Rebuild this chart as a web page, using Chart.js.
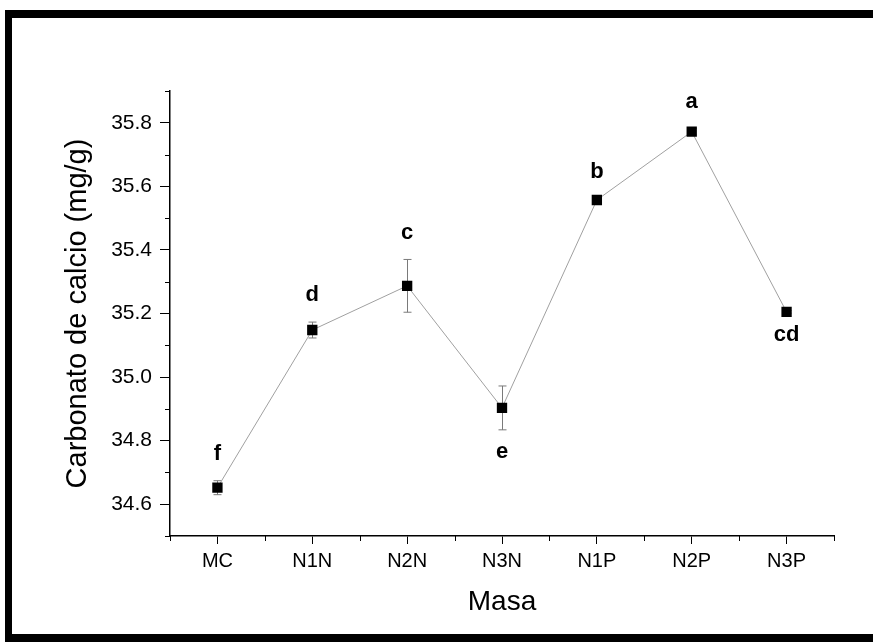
<!DOCTYPE html>
<html>
<head>
<meta charset="utf-8">
<script src="https://cdn.jsdelivr.net/npm/chart.js@4.4.1/dist/chart.umd.min.js"></script>
<style>
    body { margin: 0; background: #ffffff; }
    #frame { position: absolute; left: 5px; top: 10px; width: 900px; height: 632px; border-left: 7px solid #000; border-top: 8px solid #000; border-bottom: 8px solid #000; box-sizing: border-box; }
    #graph { position: absolute; left: 0; top: 0; }
</style>
</head>
<body>
<div id="frame"></div>
<canvas id="graph" width="873" height="644"></canvas>
<script>
//data
const categories = ["MC", "N1N", "N2N", "N3N", "N1P", "N2P", "N3P"];
const means = [34.652, 35.148, 35.287, 34.903, 35.557, 35.772, 35.205];
const errors = [0.022, 0.025, 0.083, 0.069, 0.004, 0.010, 0.004];
const letters = ["f", "d", "c", "e", "b", "a", "cd"];
const yTicks = [34.6, 34.8, 35.0, 35.2, 35.4, 35.6, 35.8];
const yMinorTicks = [34.5, 34.7, 34.9, 35.1, 35.3, 35.5, 35.7, 35.9];

//where each letter sits, above or below the point
const letterSide = ["top", "top", "top", "bottom", "top", "top", "bottom"];

const FONT = "'Liberation Sans', Arial, sans-serif";

/**********/
const extrasPlugin =
{
    id: "extras",

    beforeDatasetsDraw(chart)
    {
        const ctx = chart.ctx;
        const x = chart.scales.x;
        const y = chart.scales.y;

        ctx.save();

        //minor ticks y
        ctx.strokeStyle = "#000";
        ctx.lineWidth = 1;
        for (let i = 0; i < yMinorTicks.length; i++)
        {
            let py = Math.round(y.getPixelForValue(yMinorTicks[i])) + 0.5;
            ctx.beginPath();
            ctx.moveTo(x.left - 5, py);
            ctx.lineTo(x.left, py);
            ctx.stroke();
        }

        //minor ticks x, between categories
        for (let i = 0; i <= categories.length; i++)
        {
            let px = Math.round(x.getPixelForValue(i - 0.5)) + 0.5;
            ctx.beginPath();
            ctx.moveTo(px, y.bottom);
            ctx.lineTo(px, y.bottom + 5);
            ctx.stroke();
        }

        //error bars
        ctx.strokeStyle = "#7a7a7a";
        for (let i = 0; i < means.length; i++)
        {
            let px = Math.round(x.getPixelForValue(i)) + 0.5;
            let top = y.getPixelForValue(means[i] + errors[i]);
            let bot = y.getPixelForValue(means[i] - errors[i]);
            ctx.beginPath();
            ctx.moveTo(px, top);
            ctx.lineTo(px, bot);
            ctx.moveTo(px - 4, top);
            ctx.lineTo(px + 4, top);
            ctx.moveTo(px - 4, bot);
            ctx.lineTo(px + 4, bot);
            ctx.stroke();
        }

        ctx.restore();
    },

    afterDatasetsDraw(chart)
    {
        const ctx = chart.ctx;
        const x = chart.scales.x;
        const y = chart.scales.y;

        ctx.save();
        ctx.fillStyle = "#000";
        ctx.font = "bold 22px " + FONT;
        ctx.textAlign = "center";
        ctx.textBaseline = "middle";

        for (let i = 0; i < letters.length; i++)
        {
            let px = x.getPixelForValue(i);
            let py;
            if (letterSide[i] === "top") { py = y.getPixelForValue(means[i] + errors[i]) - 27; }
            else { py = y.getPixelForValue(means[i] - errors[i]) + 22; }
            ctx.fillText(letters[i], px, py);
        }

        ctx.restore();
    }
};

/**********/
function displayGraph()
{
    const ctx = document.getElementById("graph");

    window.graph = new Chart(ctx,
    {
        type: 'line',

        data:
        {
            labels: categories,
            datasets: [
            {
                data: means,
                borderColor: "#a0a0a0",
                borderWidth: 1,
                pointStyle: "rect",
                pointRadius: 7.3,
                pointHoverRadius: 7.3,
                pointBackgroundColor: "#000",
                pointBorderColor: "#000",
                pointBorderWidth: 0,
                tension: 0
            }]
        },

        plugins: [extrasPlugin],

        options:
        {
            responsive: false,
            animation: false,
            events: [],
            layout: { padding: { left: 0, top: 91, right: 39, bottom: 0 } },
            plugins: { legend: { display: false }, tooltip: { enabled: false } },
            scales:
            {
                x:
                {
                    type: "category",
                    offset: true,
                    border: { display: true, color: "#000", width: 1.5 },
                    grid: { drawOnChartArea: false, drawTicks: true, tickLength: 8, color: "#000", tickWidth: 1, offset: false },
                    ticks: { color: "#000", font: { family: FONT, size: 20 }, padding: 5, maxRotation: 0 },
                    title: { display: true, text: "Masa", color: "#000", font: { family: FONT, size: 28 }, padding: { top: 0, bottom: 25 } },
                    afterFit: function(scale) { scale.height = 108; }
                },
                y:
                {
                    min: 34.5,
                    max: 35.9,
                    border: { display: true, color: "#000", width: 1.5 },
                    grid: { drawOnChartArea: false, drawTicks: true, tickLength: 10, color: "#000", tickWidth: 1 },
                    ticks: { color: "#000", font: { family: FONT, size: 21 }, padding: 8, callback: function(v) { return v.toFixed(1); } },
                    afterBuildTicks: function(scale) { scale.ticks = yTicks.map(function(v) { return { value: v }; }); },
                    title: { display: true, text: "Carbonato de calcio (mg/g)", color: "#000", font: { family: FONT, size: 29 }, padding: { top: 61, bottom: 0 } },
                    afterFit: function(scale) { scale.width = 170; }
                }
            }
        }
    });
}

displayGraph();
</script>
</body>
</html>
